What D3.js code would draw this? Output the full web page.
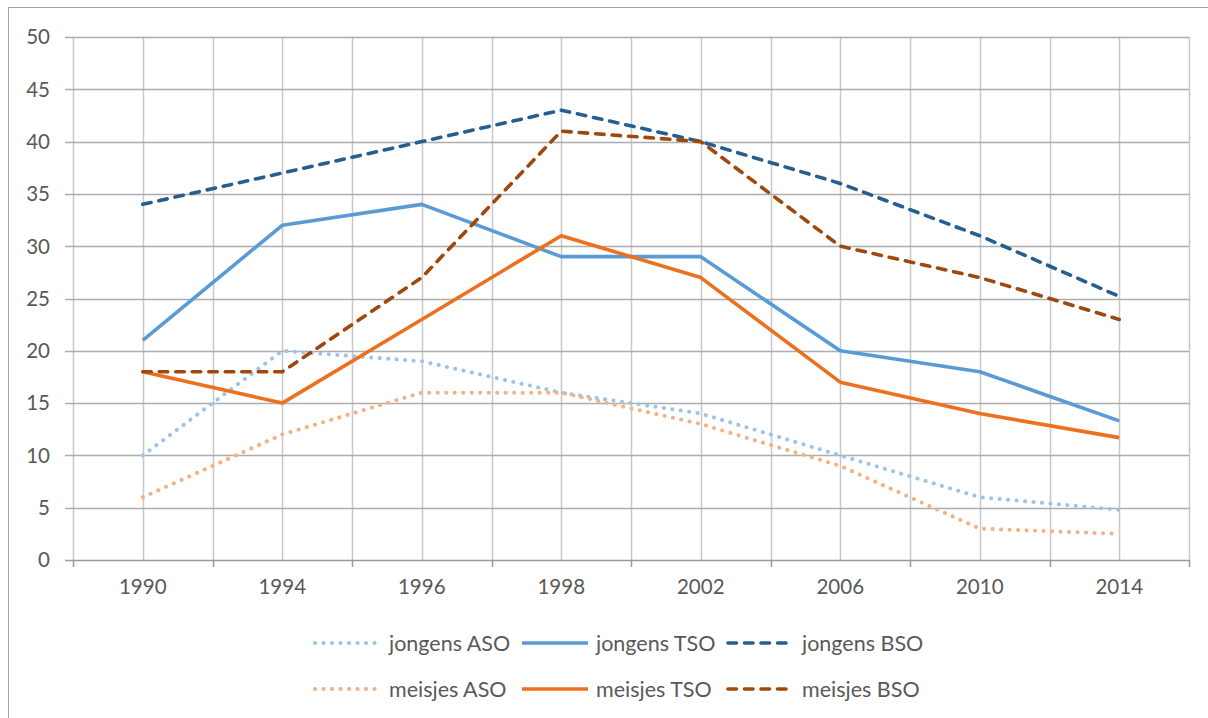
<!DOCTYPE html>
<html>
<head>
<meta charset="utf-8">
<script src="https://cdn.jsdelivr.net/npm/d3@7"></script>
<style>
  body { margin: 0; background: #fff; }
  text { font-family: Lato, "Open Sans", sans-serif; fill: #595959; }
</style>
</head>
<body>
<script>
let width = 1208;
let height = 718;
let margin = { top: 37, right: 19, bottom: 158, left: 73 };

// data
let years = ["1990", "1994", "1996", "1998", "2002", "2006", "2010", "2014"];
let jongensASO = [10, 20, 19, 16, 14, 10, 6, 4.8];
let jongensTSO = [21, 32, 34, 29, 29, 20, 18, 13.3];
let jongensBSO = [34, 37, 40, 43, 40, 36, 31, 25.2];
let meisjesASO = [6, 12, 16, 16, 13, 9, 3, 2.5];
let meisjesTSO = [18, 15, 23, 31, 27, 17, 14, 11.7];
let meisjesBSO = [18, 18, 27, 41, 40, 30, 27, 23];
let yTicks = [0, 5, 10, 15, 20, 25, 30, 35, 40, 45, 50];

let series = [
	{ name: "jongens ASO", values: jongensASO, color: "#9dc3e6", style: "dot" },
	{ name: "jongens TSO", values: jongensTSO, color: "#5b9bd5", style: "solid" },
	{ name: "jongens BSO", values: jongensBSO, color: "#255e91", style: "dash" },
	{ name: "meisjes ASO", values: meisjesASO, color: "#f4b183", style: "dot" },
	{ name: "meisjes TSO", values: meisjesTSO, color: "#eb7020", style: "solid" },
	{ name: "meisjes BSO", values: meisjesBSO, color: "#9e480e", style: "dash" }
];

let dashes = { dot: "0.1 8.4", solid: null, dash: "8.5 8" };

let svg = d3.select("body").append("svg")
	.attr("width", width)
	.attr("height", height);

// chart frame
svg.append("rect")
	.attr("x", 8.5).attr("y", 7.5)
	.attr("width", 1220).attr("height", 730)
	.attr("fill", "none")
	.attr("stroke", "#a6a6a6");

let plotW = width - margin.left - margin.right;
let plotH = height - margin.top - margin.bottom;

let x = d3.scaleBand()
	.domain(years)
	.range([margin.left, margin.left + plotW]);

let y = d3.scaleLinear()
	.domain([0, 50])
	.range([margin.top + plotH, margin.top]);

let grid = svg.append("g");

// vertical gridlines at band edges and centres
let vLines = [];
years.forEach(function(d){
	vLines.push(x(d));
	vLines.push(x(d) + x.bandwidth() / 2);
});
vLines.push(margin.left + plotW);

grid.selectAll(".vgrid")
	.data(vLines)
	.enter()
	.append("line")
	.attr("x1", d => Math.round(d) + 0.5)
	.attr("x2", d => Math.round(d) + 0.5)
	.attr("y1", y(50))
	.attr("y2", y(0))
	.attr("stroke", "#c8c8c8")
	.attr("stroke-width", 1.5);

// horizontal gridlines + y ticks
grid.selectAll(".hgrid")
	.data(yTicks)
	.enter()
	.append("line")
	.attr("x1", margin.left - 8)
	.attr("x2", margin.left + plotW)
	.attr("y1", d => Math.round(y(d)) + 0.5)
	.attr("y2", d => Math.round(y(d)) + 0.5)
	.attr("stroke", d => d === 0 ? "#9a9a9a" : "#adadad")
	.attr("stroke-width", 1.5);

// x tick marks
let xTicks = years.map(d => x(d)).concat([margin.left + plotW]);
grid.selectAll(".xtick")
	.data(xTicks)
	.enter()
	.append("line")
	.attr("x1", d => Math.round(d) + 0.5)
	.attr("x2", d => Math.round(d) + 0.5)
	.attr("y1", y(0))
	.attr("y2", y(0) + 7)
	.attr("stroke", "#9a9a9a")
	.attr("stroke-width", 1.5);

svg.selectAll(".ylabel")
	.data(yTicks)
	.enter()
	.append("text")
	.attr("x", 50)
	.attr("y", d => y(d))
	.attr("dy", "0.36em")
	.attr("text-anchor", "end")
	.style("font-size", "20.5px")
	.text(d => d);

svg.selectAll(".xlabel")
	.data(years)
	.enter()
	.append("text")
	.attr("x", d => x(d) + x.bandwidth() / 2)
	.attr("y", y(0) + 27)
	.attr("dy", "0.36em")
	.attr("text-anchor", "middle")
	.style("font-size", "20.5px")
	.text(d => d);

let line = d3.line()
	.x((d, i) => x(years[i]) + x.bandwidth() / 2)
	.y(d => y(d));

svg.selectAll(".series")
	.data(series)
	.enter()
	.append("path")
	.attr("d", d => line(d.values))
	.attr("fill", "none")
	.attr("stroke", d => d.color)
	.attr("stroke-width", d => d.style === "dot" ? 4 : 3.6)
	.attr("stroke-linecap", d => d.style === "solid" ? "butt" : "round")
	.attr("stroke-linejoin", "round")
	.attr("stroke-dasharray", d => dashes[d.style]);

// legend: 2 rows x 3 columns
let colX = [313, 520, 726];
let rowY = [643, 689];

let legend = svg.selectAll(".legend")
	.data(series)
	.enter()
	.append("g")
	.attr("transform", (d, i) => `translate(${colX[i % 3]},${rowY[Math.floor(i / 3)]})`);

legend.append("line")
	.attr("x1", 2)
	.attr("x2", 68)
	.attr("y1", 0).attr("y2", 0)
	.attr("stroke", d => d.color)
	.attr("stroke-width", d => d.style === "dot" ? 4 : 3.6)
	.attr("stroke-linecap", d => d.style === "solid" ? "butt" : "round")
	.attr("stroke-dasharray", d => dashes[d.style]);

legend.append("text")
	.attr("x", 76)
	.attr("y", 0)
	.attr("dy", "0.36em")
	.style("font-size", "21.5px")
	.text(d => d.name);
</script>
</body>
</html>
